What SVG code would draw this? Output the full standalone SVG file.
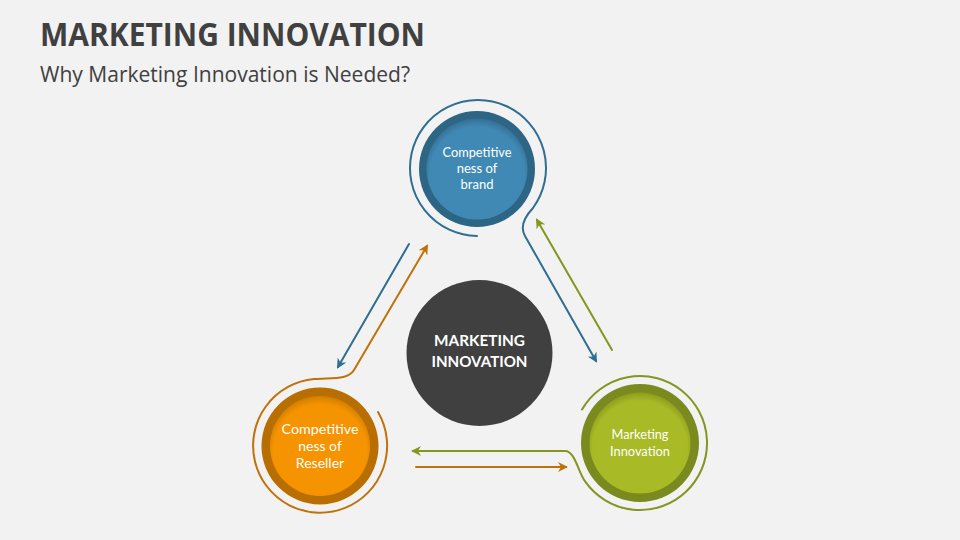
<svg xmlns="http://www.w3.org/2000/svg" width="960" height="540" viewBox="0 0 960 540">
<style>
.title{font-family:"Open Sans","Liberation Sans",sans-serif;font-weight:700;fill:#404040}
.sub{font-family:"Open Sans","Liberation Sans",sans-serif;fill:#404040}
.lbl{font-family:Lato,"Liberation Sans",sans-serif;fill:#ffffff;text-anchor:middle}
.ctr{font-family:Lato,"Open Sans",sans-serif;font-weight:700;fill:#ffffff;text-anchor:middle}
.ln{fill:none;stroke-width:2;stroke-linecap:round;stroke-linejoin:round}
.blue{stroke:#2F6E91}
.orange{stroke:#C0720A}
.green{stroke:#84961F}
</style>
<defs>
<marker id="aBlue" viewBox="0 0 10 10" refX="8" refY="5" markerUnits="userSpaceOnUse" markerWidth="12" markerHeight="10" orient="auto"><path d="M0,0 L10,5 L0,10 L3,5 z" fill="#2F6E91"/></marker>
<marker id="aOrange" viewBox="0 0 10 10" refX="8" refY="5" markerUnits="userSpaceOnUse" markerWidth="12" markerHeight="10" orient="auto"><path d="M0,0 L10,5 L0,10 L3,5 z" fill="#C0720A"/></marker>
<marker id="aGreen" viewBox="0 0 10 10" refX="8" refY="5" markerUnits="userSpaceOnUse" markerWidth="12" markerHeight="10" orient="auto"><path d="M0,0 L10,5 L0,10 L3,5 z" fill="#84961F"/></marker>
<radialGradient id="gBlue" cx="50%" cy="55%" r="55%"><stop offset="0.85" stop-color="#4089B5"/><stop offset="1" stop-color="#356F94"/></radialGradient>
<radialGradient id="gOrange" cx="50%" cy="55%" r="55%"><stop offset="0.85" stop-color="#F59300"/><stop offset="1" stop-color="#D07F00"/></radialGradient>
<radialGradient id="gGreen" cx="50%" cy="55%" r="55%"><stop offset="0.85" stop-color="#A8BA25"/><stop offset="1" stop-color="#8C9C1F"/></radialGradient>
</defs>
<rect width="960" height="540" fill="#F2F2F2"/>
<text class="title" x="40" y="46" font-size="32" textLength="385" lengthAdjust="spacingAndGlyphs">MARKETING INNOVATION</text>
<text class="sub" x="40" y="82" font-size="22" textLength="370" lengthAdjust="spacingAndGlyphs">Why Marketing Innovation is Needed?</text>

<g id="connectors">
<path class="ln blue" d="M477,236 A68,68 0 1 1 533,208 Q518,224 525,236 L596,361" marker-end="url(#aBlue)"/>
<path class="ln orange" d="M378,412 A67,67 0 1 1 314,379 C332,377.5 348,380 354,370 L427,246" marker-end="url(#aOrange)"/>
<path class="ln green" d="M582,409.5 A67,67 0 1 1 585.1,481.4 C578,471.6 575,451 565,451 L413,451" marker-end="url(#aGreen)"/>
<path class="ln blue" d="M409,244 L338,367" marker-end="url(#aBlue)"/>
<path class="ln green" d="M612,350 L537,220" marker-end="url(#aGreen)"/>
<path class="ln orange" d="M416,467 L566,467" marker-end="url(#aOrange)"/>
</g>

<g id="center">
<circle cx="479.5" cy="353" r="73" fill="#404040"/>
<text class="ctr" x="479.5" y="346" font-size="16" textLength="91" lengthAdjust="spacingAndGlyphs">MARKETING</text>
<text class="ctr" x="479.5" y="367" font-size="16" textLength="96" lengthAdjust="spacingAndGlyphs">INNOVATION</text>
</g>

<g id="node-brand">
<circle cx="477" cy="169" r="58" fill="#2D6585"/>
<circle cx="477" cy="169" r="50.5" fill="url(#gBlue)"/>
<text class="lbl" x="477" y="157" font-size="13" textLength="69" lengthAdjust="spacingAndGlyphs">Competitive</text>
<text class="lbl" x="477" y="173" font-size="13">ness of</text>
<text class="lbl" x="477" y="189" font-size="13">brand</text>
</g>

<g id="node-reseller">
<circle cx="320" cy="446" r="58.5" fill="#B86E00"/>
<circle cx="320" cy="446" r="50" fill="url(#gOrange)"/>
<text class="lbl" x="320" y="434" font-size="14" textLength="77" lengthAdjust="spacingAndGlyphs">Competitive</text>
<text class="lbl" x="320" y="451" font-size="14">ness of</text>
<text class="lbl" x="320" y="468" font-size="14">Reseller</text>
</g>

<g id="node-innovation">
<circle cx="640" cy="443" r="59" fill="#7A8A1E"/>
<circle cx="640" cy="443" r="50.5" fill="url(#gGreen)"/>
<text class="lbl" x="640" y="439" font-size="13" textLength="57" lengthAdjust="spacingAndGlyphs">Marketing</text>
<text class="lbl" x="640" y="456" font-size="13" textLength="60" lengthAdjust="spacingAndGlyphs">Innovation</text>
</g>
</svg>
